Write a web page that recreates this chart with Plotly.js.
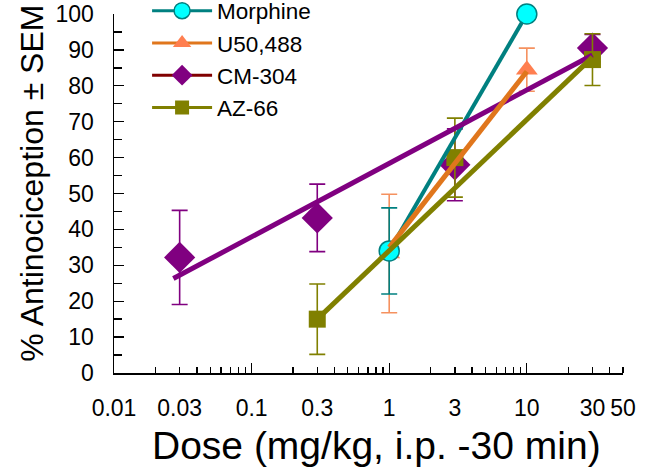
<!DOCTYPE html>
<html>
<head>
<meta charset="utf-8">
<script src="https://cdn.plot.ly/plotly-3.0.1.min.js"></script>
<style>html,body{margin:0;padding:0;background:#fff;}#chart{width:645px;height:473px;}</style>
</head>
<body>
<div id="chart"></div>
<script>
// ---- data ----
const seriesNames = ["Morphine", "U50,488", "CM-304", "AZ-66"];

const morphineDose = [1, 10];
const morphineEffect = [34, 100];
const morphineSem = [12, 0];

const u50Dose = [1, 10];
const u50Effect = [33.3, 84.5];
const u50Sem = [16.5, 6];

const cmDose = [0.03, 0.3, 3, 30];
const cmEffect = [32.2, 43.2, 58, 90.5];
const cmSem = [13.1, 9.4, 10, 3.8];

const azDose = [0.3, 3, 30];
const azEffect = [15, 60, 87.3];
const azSem = [9.8, 11, 7.2];

// regression lines as drawn in the reference
const morphineFitDose = [1, 10];
const morphineFitEffect = [34, 100];
const u50FitDose = [1, 10];
const u50FitEffect = [35, 84];
const cmFitDose = [0.027, 30];
const cmFitEffect = [26.3, 88.6];
const azFitDose = [0.3, 30];
const azFitEffect = [15, 88];

const xTickVals = [0.01, 0.03, 0.1, 0.3, 1, 3, 10, 30, 50];
const xTickText = ["0.01", "0.03", "0.1", "0.3", "1", "3", "10", "30", "50"];
const xDecades = [0.01, 0.1, 1, 10];

// ---- styling ----
const FONT = "Liberation Sans, Arial, Helvetica, sans-serif";
const teal = "#008080", cyan = "#00ffff";
const coral = "#ff7f50", orangeLine = "#e0761c", orangeErr = "#f5915f";
const purple = "#800080", maroon = "#800000";
const olive = "#808000";

function minorVals() {
  const v = [];
  [0.01, 0.1, 1, 10].forEach(d => {
    for (let k = 2; k <= 9; k++) { const t = d * k; if (t <= 50.0001) v.push(t); }
  });
  return v;
}

function pts(x, y, e, name, sym, size, fill, edge, ew, errColor, lg) {
  return {
    x: x, y: y, type: "scatter", mode: "markers", name: name, showlegend: false, legendgroup: lg,
    marker: {symbol: sym, size: size, color: fill, line: {color: edge, width: ew}},
    error_y: {type: "data", array: e, visible: true, color: errColor, thickness: 1.6, width: 8},
    cliponaxis: false, hoverinfo: "skip"
  };
}
function fit(x, y, color, w, lg) {
  return {x: x, y: y, type: "scatter", mode: "lines", showlegend: false, legendgroup: lg,
    line: {color: color, width: w}, hoverinfo: "skip", cliponaxis: false};
}
function leg(name, sym, size, fill, edge, ew, lineColor, lg) {
  return {x: [null], y: [null], type: "scatter", mode: "lines+markers", name: name, legendgroup: lg,
    marker: {symbol: sym, size: size, color: fill, line: {color: edge, width: ew}},
    line: {color: lineColor, width: 3}};
}

const traces = [
  leg(seriesNames[0], "circle", 18, cyan, teal, 1.5, teal, "g1"),
  leg(seriesNames[1], "triangle-up", 17, coral, coral, 0, orangeLine, "g2"),
  leg(seriesNames[2], "diamond", 19, purple, purple, 0, maroon, "g3"),
  leg(seriesNames[3], "square", 14, olive, olive, 0, olive, "g4"),

  pts(cmDose, cmEffect, cmSem, seriesNames[2], "diamond", 24, purple, purple, 0, purple, "g3"),
  pts(azDose, azEffect, azSem, seriesNames[3], "square", 17, olive, olive, 0, olive, "g4"),
  pts(u50Dose, u50Effect, u50Sem, seriesNames[1], "triangle-up", 19, coral, coral, 0, orangeErr, "g2"),
  fit(morphineFitDose, morphineFitEffect, teal, 4, "g1"),
  pts(morphineDose, morphineEffect, morphineSem, seriesNames[0], "circle", 20, cyan, teal, 1.5, teal, "g1"),
  fit(cmFitDose, cmFitEffect, purple, 5, "g3"),
  fit(u50FitDose, u50FitEffect, orangeLine, 5, "g2"),
  fit(azFitDose, azFitEffect, olive, 5, "g4"),
  // decade ticks (longer), no labels
  {x: [null], y: [null], xaxis: "x2", yaxis: "y", type: "scatter", showlegend: false, hoverinfo: "skip"}
];

const xRange = [Math.log10(0.01), Math.log10(50)];
const layout = {
  width: 645, height: 473,
  margin: {l: 114, r: 22, t: 14, b: 100, autoexpand: false},
  paper_bgcolor: "#fff", plot_bgcolor: "#fff",
  font: {family: FONT, color: "#000", size: 23},
  showlegend: true,
  legend: {x: 0.065, y: 1.068, xanchor: "left", yanchor: "top", bgcolor: "rgba(0,0,0,0)",
    font: {family: FONT, size: 22.5, color: "#000"}, tracegroupgap: 0, itemwidth: 60},
  xaxis: {
    type: "log", range: xRange, showgrid: false, zeroline: false,
    showline: true, linecolor: "#000", linewidth: 1.5, mirror: false,
    tickmode: "array", tickvals: xTickVals, ticktext: xTickText,
    ticks: "", ticklabelstandoff: 14,
    tickfont: {family: FONT, size: 23, color: "#000"},
    minor: {tickmode: "array", tickvals: minorVals(), ticks: "inside", ticklen: 6, tickcolor: "#000", tickwidth: 1.3, showgrid: false}
  },
  xaxis2: {
    type: "log", range: xRange, overlaying: "x", anchor: "y", side: "bottom",
    showgrid: false, zeroline: false, showline: false,
    tickmode: "array", tickvals: xDecades, ticktext: ["", "", "", ""],
    ticks: "inside", ticklen: 10, tickwidth: 1.3, tickcolor: "#000", showticklabels: false
  },
  yaxis: {
    range: [0, 100], showgrid: false, zeroline: false,
    showline: true, linecolor: "#000", linewidth: 1.5,
    tickmode: "linear", tick0: 0, dtick: 10,
    ticks: "inside", ticklen: 10, tickwidth: 1.3, tickcolor: "#000",
    ticklabelstandoff: 14,
    tickfont: {family: FONT, size: 23, color: "#000"},
    minor: {dtick: 5, ticks: "inside", ticklen: 8, tickwidth: 1.3, tickcolor: "#000", showgrid: false}
  },
  annotations: [
    {text: "% Antinociception \u00b1 SEM", xref: "paper", yref: "paper", x: -0.161, y: 0.527,
     xanchor: "center", yanchor: "middle", textangle: -90, showarrow: false,
     font: {family: FONT, size: 32, color: "#000"}},
    {text: "Dose (mg/kg, i.p. -30 min)", xref: "paper", yref: "paper", x: 0.515, y: -0.201,
     xanchor: "center", yanchor: "middle", showarrow: false,
     font: {family: FONT, size: 39, color: "#000"}}
  ]
};

Plotly.newPlot("chart", traces, layout, {displayModeBar: false, staticPlot: true});
</script>
</body>
</html>
